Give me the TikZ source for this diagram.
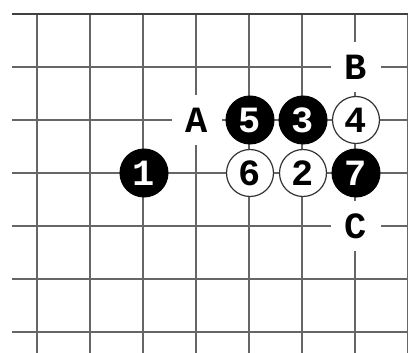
\documentclass[tikz,border=0pt]{standalone}
\usepackage{fontspec}
\newfontfamily\goFont{Liberation Mono}[BoldFont={* Bold}]
\newcommand{\gofontsize}{\goFont\bfseries\fontsize{37pt}{37pt}\selectfont}
\begin{document}
\begin{tikzpicture}[x=1pt,y=-1pt,
  gridline/.style={draw=black!60,line width=1.4pt},
  edgeline/.style={draw=black!75,line width=2.6pt},
  blackstone/.style={circle,fill=black,draw=black,line width=1pt,minimum size=48pt,inner sep=0pt,text=white,font=\gofontsize},
  whitestone/.style={circle,fill=white,draw=black!80,line width=1.2pt,minimum size=47pt,inner sep=0pt,text=black,font=\gofontsize},
  marklabel/.style={circle,fill=white,minimum size=50pt,inner sep=0pt,text=black,font=\gofontsize}]
\useasboundingbox (0,0) rectangle (408,353);
\begin{scope}
\clip (0,0) rectangle (408,353);
\foreach \j in {1,...,6} \draw[gridline] (12,14+53*\j) -- (410,14+53*\j);
\foreach \k in {0,...,7} \draw[gridline] (37+53*\k,14) -- (37+53*\k,355);
\draw[edgeline] (12,14) -- (410,14);
\end{scope}
\node[marklabel] (A) at (197,120) {A};
\node[marklabel] (B) at (356,67) {B};
\node[marklabel] (C) at (356,226) {C};
\node[blackstone] (s1) at (144,173) {1};
\node[whitestone] (s2) at (303,173) {2};
\node[blackstone] (s3) at (303,120) {3};
\node[whitestone] (s4) at (356,120) {4};
\node[blackstone] (s5) at (250,120) {5};
\node[whitestone] (s6) at (250,173) {6};
\node[blackstone] (s7) at (356,173) {7};
\end{tikzpicture}
\end{document}
